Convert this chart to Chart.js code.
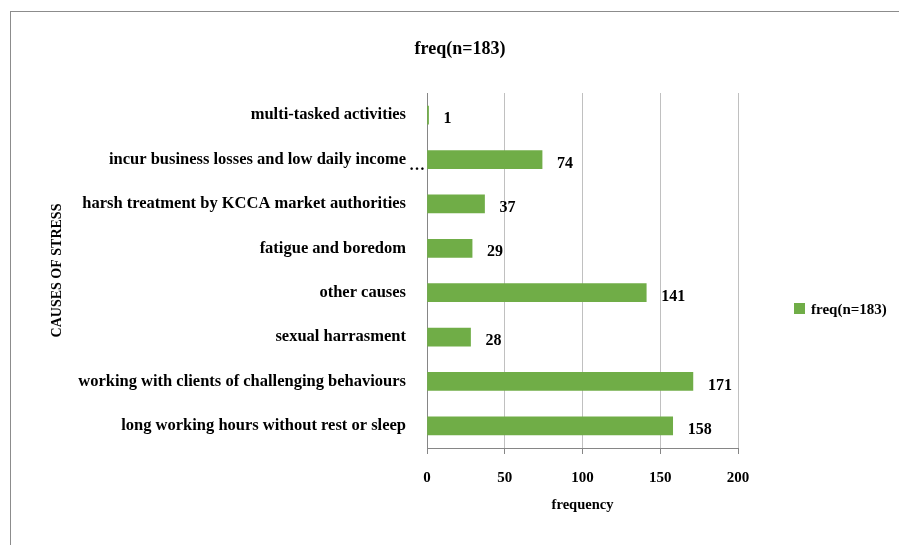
<!DOCTYPE html>
<html>
<head>
<meta charset="utf-8">
<script src="https://cdn.jsdelivr.net/npm/chart.js@4"></script>
<style>
html, body { margin: 0; padding: 0; background: #fff; }
#wrap { position: relative; width: 899px; height: 545px; overflow: hidden; }
#frame { position: absolute; left: 10px; top: 11px; width: 900px; height: 600px; border: 1px solid #8c8c8c; box-sizing: border-box; }
canvas { position: absolute; left: 0; top: 0; }
</style>
</head>
<body>
<div id="wrap"><div id="frame"></div><canvas id="chart" width="899" height="545"></canvas></div>
<script>
const chartTitle = "freq(n=183)";
const seriesName = "freq(n=183)";
const categories = [
    "multi-tasked activities",
    "incur business losses and low daily income",
    "harsh treatment by KCCA market authorities",
    "fatigue and boredom",
    "other causes",
    "sexual harrasment",
    "working with clients of challenging behaviours",
    "long working hours without rest or sleep"
];
const freq = [1, 74, 37, 29, 141, 28, 171, 158];
const truncMark = "…"; // shown after the 2nd category label
const xTitle = "frequency";
const yTitle = "CAUSES OF STRESS";

const serif = "'Liberation Serif', 'Times New Roman', serif";
const green = "#70ad47";

const extras = {
    id: "extras",
    afterDraw(chart) {
        const ctx = chart.ctx;
        ctx.save();
        ctx.fillStyle = "#000";
        // value labels
        ctx.font = "bold 16px " + serif;
        ctx.textAlign = "left";
        ctx.textBaseline = "middle";
        chart.getDatasetMeta(0).data.forEach((bar, i) => {
            ctx.fillText(String(freq[i]), bar.x + 15, bar.y + 4);
        });
        // truncated label mark
        const yScale = chart.scales.y;
        ctx.font = "bold 16px " + serif;
        ctx.fillText(truncMark, 409, yScale.getPixelForValue(1) + 6);
        // title
        ctx.font = "bold 18px " + serif;
        ctx.textAlign = "center";
        ctx.fillText(chartTitle, 460, 49);
        // legend
        ctx.fillStyle = green;
        ctx.fillRect(794, 303, 11, 11);
        ctx.fillStyle = "#000";
        ctx.font = "bold 15px " + serif;
        ctx.textAlign = "left";
        ctx.fillText(seriesName, 811, 310);
        ctx.restore();
    }
};

new Chart(document.getElementById("chart").getContext("2d"), {
    type: "bar",
    data: {
        labels: categories,
        datasets: [{ label: seriesName, data: freq, backgroundColor: green, barThickness: 18 }]
    },
    options: {
        indexAxis: "y",
        responsive: false,
        animation: false,
        devicePixelRatio: 1,
        layout: { padding: { left: 21, right: 161, top: 93, bottom: 0 } },
        plugins: { legend: { display: false }, title: { display: false }, tooltip: { enabled: false } },
        scales: {
            x: {
                min: 0,
                max: 200,
                ticks: { stepSize: 50, padding: 15, color: "#000", font: { family: serif, size: 15, weight: "bold" } },
                grid: {
                    color: c => (c.tick && c.tick.value === 0 ? "rgba(0,0,0,0)" : "#c0c0c0"),
                    tickColor: "#868686",
                    tickLength: 6
                },
                border: { color: "#868686" },
                title: { display: true, text: xTitle, color: "#000", font: { family: serif, size: 14.5, weight: "bold" }, padding: { top: 9, bottom: 31 } },
                afterFit(s) { s.height = 97; }
            },
            y: {
                grid: { display: false, drawTicks: false },
                border: { display: true, color: "#868686" },
                ticks: { padding: 21, autoSkip: false, color: "#000", font: { family: serif, size: 16.5, weight: "bold" } },
                title: { display: true, text: yTitle, color: "#000", font: { family: serif, size: 14, weight: "bold" }, padding: { top: 28, bottom: 0 } },
                afterFit(s) { s.width = 406; }
            }
        }
    },
    plugins: [extras]
});
</script>
</body>
</html>
